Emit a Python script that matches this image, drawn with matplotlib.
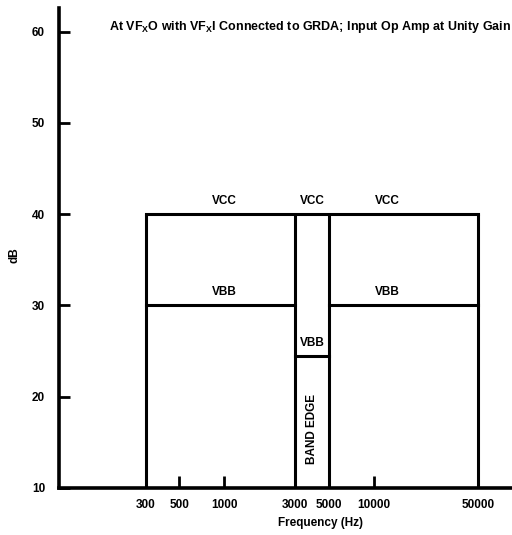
import matplotlib
matplotlib.use("Agg")
import matplotlib.pyplot as plt

plt.rcParams['font.family'] = ['Liberation Sans', 'DejaVu Sans']
plt.rcParams['font.weight'] = 'bold'
plt.rcParams['mathtext.fontset'] = 'custom'
plt.rcParams['mathtext.rm'] = 'Liberation Sans:bold'
plt.rcParams['mathtext.bf'] = 'Liberation Sans:bold'
plt.rcParams['mathtext.it'] = 'Liberation Sans:bold'

# Data
edges_hz = [300, 3000, 5000, 50000]
vcc_db = 40
vbb_db = 30
vbb_band_db = 24.5
floor_db = 10
xtick_vals = [300, 500, 1000, 3000, 5000, 10000, 50000]
xtick_labels = ["300", "500", "1000", "3000", "5000", "10000", "50000"]
ytick_vals = [10, 20, 30, 40, 50, 60]

fig = plt.figure(figsize=(5.12, 5.35), dpi=100)
ax = fig.add_axes([59/512, 1-488/535, 1-59/512, (488-8)/535])
ax.set_xscale('log')
ax.set_xlim(78.5, 84500)
ax.set_ylim(10, 62.6)

lw = 2.2
k = 'black'
ax.plot([edges_hz[0], edges_hz[3]], [vcc_db, vcc_db], color=k, lw=lw, solid_capstyle='projecting')
for e in edges_hz:
    ax.plot([e, e], [floor_db, vcc_db], color=k, lw=lw, solid_capstyle='butt')
ax.plot([edges_hz[0], edges_hz[1]], [vbb_db, vbb_db], color=k, lw=lw)
ax.plot([edges_hz[2], edges_hz[3]], [vbb_db, vbb_db], color=k, lw=lw)
ax.plot([edges_hz[1], edges_hz[2]], [vbb_band_db, vbb_band_db], color=k, lw=lw)

fs = 8.5
tk = dict(fontsize=fs, fontweight='bold', ha='center', va='bottom')
ax.text(1000, vcc_db + 0.8, "VCC", **tk)
ax.text(3900, vcc_db + 0.8, "VCC", **tk)
ax.text(12300, vcc_db + 0.8, "VCC", **tk)
ax.text(1000, vbb_db + 0.8, "VBB", **tk)
ax.text(12300, vbb_db + 0.8, "VBB", **tk)
ax.text(3900, vbb_band_db + 0.7, "VBB", **tk)
ax.text(3900, 16.5, "BAND EDGE", fontsize=fs, fontweight='bold', ha='center', va='center', rotation=90)

fig.text(109/512, 1-27/535, r"At VF$_{X}$O with VF$_{X}$I Connected to GRDA; Input Op Amp at Unity Gain",
         fontsize=9, fontweight='bold', ha='left', va='center')

ax.set_xticks(xtick_vals)
ax.set_xticklabels(xtick_labels)
ax.xaxis.set_minor_locator(matplotlib.ticker.NullLocator())
ax.set_yticks(ytick_vals)
ax.tick_params(axis='x', direction='in', length=9, width=2, labelsize=fs, pad=8)
ax.tick_params(axis='y', direction='in', length=8, width=2, labelsize=fs, pad=10)
for lab in ax.get_xticklabels() + ax.get_yticklabels():
    lab.set_fontweight('bold')

for s in ['top', 'right']:
    ax.spines[s].set_visible(False)
for s in ['left', 'bottom']:
    ax.spines[s].set_linewidth(2.6)

fig.text(320/512, 1-523/535, "Frequency (Hz)", fontsize=fs, fontweight='bold', ha='center', va='center')
fig.text(14/512, 1-255/535, "dB", fontsize=fs, fontweight='bold', rotation=90, ha='center', va='center')

fig.savefig("out.png", dpi=100)
